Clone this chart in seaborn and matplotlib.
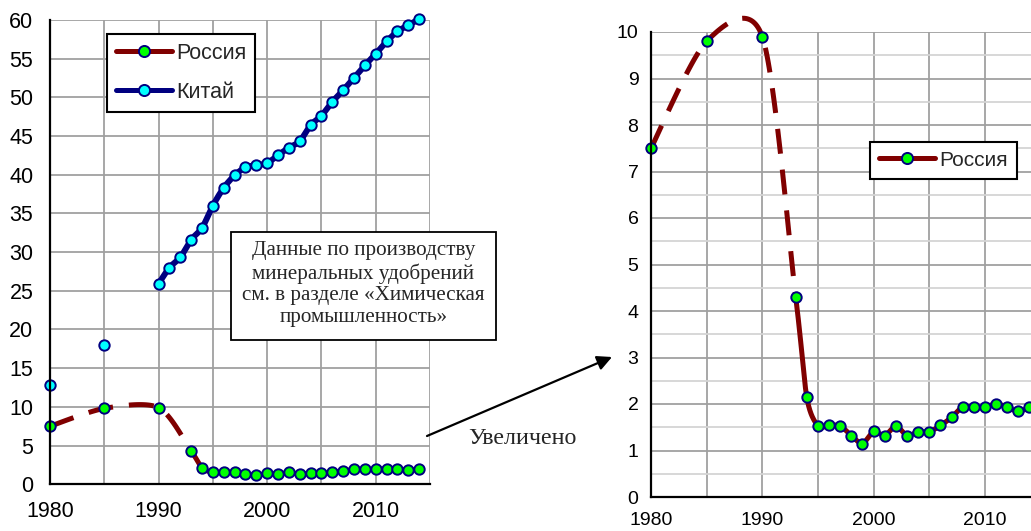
import numpy as np
import pandas as pd
import matplotlib
matplotlib.use("Agg")
import matplotlib.pyplot as plt
import seaborn as sns
from matplotlib.lines import Line2D
from matplotlib.patches import Rectangle, FancyArrowPatch
from matplotlib.ticker import MultipleLocator

# ---------------- data ----------------
russia_years = [1980, 1985, 1990, 1993, 1994, 1995, 1996, 1997, 1998, 1999, 2000,
                2001, 2002, 2003, 2004, 2005, 2006, 2007, 2008, 2009, 2010, 2011,
                2012, 2013, 2014]
russia_values = [7.5, 9.8, 9.9, 4.3, 2.14, 1.53, 1.54, 1.53, 1.32, 1.15, 1.41,
                 1.32, 1.53, 1.32, 1.40, 1.40, 1.54, 1.71, 1.94, 1.93, 1.93, 2.01,
                 1.93, 1.84, 1.93]
china_years = [1980, 1985, 1990, 1991, 1992, 1993, 1994, 1995, 1996, 1997, 1998,
               1999, 2000, 2001, 2002, 2003, 2004, 2005, 2006, 2007, 2008, 2009,
               2010, 2011, 2012, 2013, 2014]
china_values = [12.8, 18.0, 25.9, 28.0, 29.3, 31.6, 33.1, 36.0, 38.3, 39.9, 40.95,
                41.2, 41.5, 42.5, 43.5, 44.3, 46.4, 47.6, 49.4, 50.9, 52.5, 54.1,
                55.6, 57.2, 58.5, 59.3, 60.1]
x_tick_labels = ["1980", "", "1990", "", "2000", "", "2010", ""]
legend_labels = ["Россия", "Китай"]
note_text = ("Данные по производству\nминеральных удобрений\n"
             "см. в разделе «Химическая\nпромышленность»")
zoom_text = "Увеличено"

RUS_LINE = "#800000"
RUS_FACE = "#00ff00"
CHN_LINE = "#000080"
CHN_FACE = "#00ffff"
EDGE = "#000080"
GRID = "#a0a0a0"


def smooth_segments(xs, ys, first, last, n=40, k=0.14):
    """Excel-like Bezier smoothing of the segments first..last (indices)."""
    xs = np.asarray(xs, float)
    ys = np.asarray(ys, float)
    P = np.column_stack([xs, ys])
    m = len(P)
    out = []
    for i in range(first, last):
        p0 = P[max(i - 1, 0)]
        p1 = P[i]
        p2 = P[i + 1]
        p3 = P[min(i + 2, m - 1)]
        c1 = p1 + (p2 - p0) * k
        c2 = p2 - (p3 - p1) * k
        t = np.linspace(0, 1, n)[:, None]
        seg = ((1 - t) ** 3) * p1 + 3 * ((1 - t) ** 2) * t * c1 + 3 * (1 - t) * t ** 2 * c2 + t ** 3 * p2
        if out:
            seg = seg[1:]
        out.append(seg)
    arr = np.vstack(out)
    return pd.DataFrame({"x": arr[:, 0], "y": arr[:, 1]})


sns.set_style("white")
plt.rcParams["font.family"] = ["Liberation Sans", "DejaVu Sans"]

W, H = 1031, 531
fig = plt.figure(figsize=(W / 100, H / 100), dpi=100)

ax1 = fig.add_axes([50 / W, 46.7 / H, 380 / W, 464.5 / H])
ax2 = fig.add_axes([651 / W, 34 / H, 389.6 / W, 465 / H])

rus_df = pd.DataFrame({"year": russia_years, "val": russia_values})
chn_df = pd.DataFrame({"year": china_years, "val": china_values})

rus_dash = smooth_segments(russia_years, russia_values, 0, 3)
rus_solid = smooth_segments(russia_years, russia_values, 3, len(russia_years) - 1)
chn_solid = smooth_segments(china_years[2:], china_values[2:], 0, len(china_years) - 3)

LW = 3.6
MS = 56
for ax in (ax1, ax2):
    if ax is ax1:
        sns.lineplot(data=chn_solid, x="x", y="y", sort=False, estimator=None,
                     color=CHN_LINE, lw=4.3, ax=ax, zorder=3, clip_on=False)
        sns.scatterplot(data=chn_df, x="year", y="val", s=MS, color=CHN_FACE,
                        edgecolor=EDGE, linewidth=1.4, ax=ax, zorder=4, clip_on=False)
    sns.lineplot(data=rus_dash, x="x", y="y", sort=False, estimator=None,
                 color=RUS_LINE, lw=LW, ax=ax, zorder=5, clip_on=False)
    ax.lines[-1].set_dashes((5.0, 3.2))
    ax.lines[-1].set_dash_capstyle("butt")
    sns.lineplot(data=rus_solid, x="x", y="y", sort=False, estimator=None,
                 color=RUS_LINE, lw=LW, ax=ax, zorder=5, clip_on=False)
    sns.scatterplot(data=rus_df, x="year", y="val", s=MS, color=RUS_FACE,
                    edgecolor=EDGE, linewidth=1.4, ax=ax, zorder=6, clip_on=False)

    ax.set_xlim(1980, 2015)
    ax.set_xticks(list(range(1980, 2016, 5)))
    ax.set_xticklabels(x_tick_labels)
    ax.set_xlabel("")
    ax.set_ylabel("")
    ax.grid(True, which="major", color=GRID, lw=1.3, zorder=0)
    ax.set_axisbelow(True)
    for s in ("top", "right"):
        ax.spines[s].set_visible(False)
    for s in ("left", "bottom"):
        ax.spines[s].set_color("black")
        ax.spines[s].set_linewidth(1.6)
        ax.spines[s].set_zorder(7)
    ax.tick_params(axis="both", which="major", direction="out", length=5,
                   width=1.4, color="black", labelcolor="black")
    if ax.get_legend() is not None:
        ax.get_legend().remove()

ax1.set_ylim(0, 60)
ax1.yaxis.set_major_locator(MultipleLocator(5))
ax1.tick_params(axis="both", labelsize=15.5)
ax1.tick_params(axis="x", pad=7)
ax1.tick_params(axis="y", pad=7)

ax2.set_ylim(0, 10)
ax2.yaxis.set_major_locator(MultipleLocator(1))
ax2.yaxis.set_minor_locator(MultipleLocator(0.5))
ax2.grid(True, which="minor", axis="y", color="#d4d4d4", lw=1.3, zorder=0)
ax2.tick_params(axis="y", which="minor", length=0)
ax2.tick_params(axis="both", labelsize=14)
ax2.tick_params(axis="x", pad=6)
ax2.tick_params(axis="y", pad=4)

# legends
h_rus = Line2D([], [], color=RUS_LINE, lw=LW, marker="o", markersize=8,
               markerfacecolor=RUS_FACE, markeredgecolor=EDGE, markeredgewidth=1.4)
h_chn = Line2D([], [], color=CHN_LINE, lw=LW, marker="o", markersize=8,
               markerfacecolor=CHN_FACE, markeredgecolor=EDGE, markeredgewidth=1.4)
leg1 = ax1.legend([h_rus, h_chn], legend_labels, loc="upper left",
                  bbox_to_anchor=(107 / W, 1 - 34 / H), bbox_transform=fig.transFigure,
                  borderaxespad=0, fontsize=15.5, handlelength=2.6, handletextpad=0.2,
                  labelspacing=0.85, borderpad=0.4, fancybox=False, framealpha=1,
                  edgecolor="black", shadow=False)
leg1.get_frame().set_linewidth(1.5)
leg1.set_zorder(10)

leg2 = ax2.legend([h_rus], legend_labels[:1], loc="upper left",
                  bbox_to_anchor=(870 / W, 1 - 142 / H), bbox_transform=fig.transFigure,
                  borderaxespad=0, fontsize=15, handlelength=2.7, handletextpad=0.2,
                  borderpad=0.42, fancybox=False, framealpha=1, edgecolor="black")
leg2.get_frame().set_linewidth(1.5)
leg2.set_zorder(10)

# annotation box
fig.add_artist(Rectangle((231 / W, 1 - 340 / H), (496 - 231) / W, (340 - 232) / H,
                         transform=fig.transFigure, facecolor="white",
                         edgecolor="black", lw=1.3, zorder=20))
fig.text(363.5 / W, 1 - 284 / H, note_text, ha="center", va="center",
         multialignment="center", fontsize=15.2, linespacing=1.2,
         family=["Liberation Serif", "DejaVu Serif"], zorder=21)
fig.text(468 / W, 1 - 439 / H, zoom_text, ha="left", va="center",
         fontsize=17.3, family=["Liberation Serif", "DejaVu Serif"], zorder=21)
fig.add_artist(FancyArrowPatch((427 / W, 1 - 436 / H), (612 / W, 1 - 357 / H),
                               transform=fig.transFigure, arrowstyle="-|>",
                               mutation_scale=22, lw=1.6, color="black",
                               shrinkA=0, shrinkB=0, zorder=21))

fig.savefig("out.png", dpi=100)
